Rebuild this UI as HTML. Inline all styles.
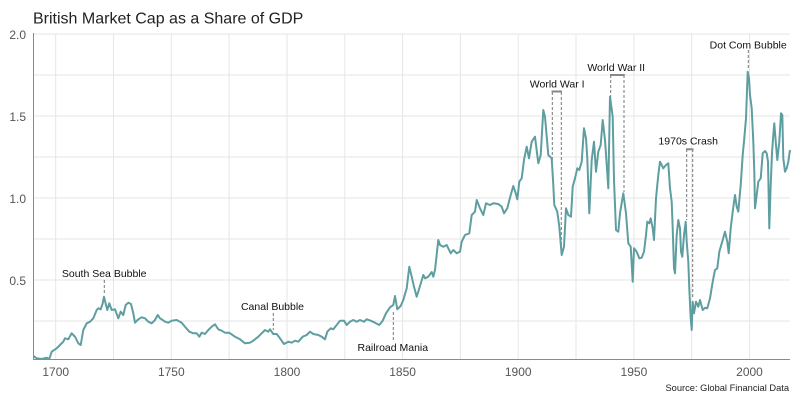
<!DOCTYPE html>
<html>
<head>
<meta charset="utf-8">
<style>
html,body{margin:0;padding:0;background:#fff;}
svg{display:block;}
text{font-family:"Liberation Sans",Arial,sans-serif;}
</style>
</head>
<body>
<svg width="800" height="400" viewBox="0 0 800 400" xmlns="http://www.w3.org/2000/svg">
<rect width="800" height="400" fill="#fff"/>
<!-- gridlines -->
<g stroke="#e6e6e6" stroke-width="1">
<line x1="33" y1="34" x2="790" y2="34"/>
<line x1="33" y1="75" x2="790" y2="75"/>
<line x1="33" y1="116" x2="790" y2="116"/>
<line x1="33" y1="157" x2="790" y2="157"/>
<line x1="33" y1="198" x2="790" y2="198"/>
<line x1="33" y1="239" x2="790" y2="239"/>
<line x1="33" y1="280" x2="790" y2="280"/>
<line x1="33" y1="321" x2="790" y2="321"/>
<line x1="55.7" y1="34" x2="55.7" y2="359"/>
<line x1="113.5" y1="34" x2="113.5" y2="359"/>
<line x1="171.3" y1="34" x2="171.3" y2="359"/>
<line x1="229.1" y1="34" x2="229.1" y2="359"/>
<line x1="287" y1="34" x2="287" y2="359"/>
<line x1="344.8" y1="34" x2="344.8" y2="359"/>
<line x1="402.6" y1="34" x2="402.6" y2="359"/>
<line x1="460.4" y1="34" x2="460.4" y2="359"/>
<line x1="518.2" y1="34" x2="518.2" y2="359"/>
<line x1="576" y1="34" x2="576" y2="359"/>
<line x1="633.9" y1="34" x2="633.9" y2="359"/>
<line x1="691.7" y1="34" x2="691.7" y2="359"/>
<line x1="749.5" y1="34" x2="749.5" y2="359"/>
</g>
<!-- axes -->
<line x1="33.5" y1="33" x2="33.5" y2="359.5" stroke="#8a8a8a" stroke-width="1"/>
<line x1="33" y1="359.5" x2="790" y2="359.5" stroke="#8a8a8a" stroke-width="1"/>

<!-- y labels -->
<g font-size="12" fill="#555" text-anchor="end">
<text x="26" y="39">2.0</text>
<text x="26" y="121">1.5</text>
<text x="26" y="203">1.0</text>
<text x="26" y="285">0.5</text>
</g>
<!-- x labels -->
<g font-size="12" fill="#555" text-anchor="middle">
<text x="55.7" y="376">1700</text>
<text x="171.3" y="376">1750</text>
<text x="287" y="376">1800</text>
<text x="402.6" y="376">1850</text>
<text x="518.2" y="376">1900</text>
<text x="633.9" y="376">1950</text>
<text x="749.5" y="376">2000</text>
</g>

<!-- title -->
<text x="33" y="23.5" font-size="16" fill="#222">British Market Cap as a Share of GDP</text>
<!-- source -->
<text x="789" y="391" font-size="9.3" fill="#222" text-anchor="end">Source: Global Financial Data</text>

<!-- annotation dashed lines -->
<g stroke="#777" stroke-width="1" stroke-dasharray="3,2" fill="none">
<line x1="104.3" y1="280" x2="104.3" y2="293"/>
<line x1="273.3" y1="313" x2="273.3" y2="330"/>
<line x1="393.3" y1="312" x2="393.3" y2="340"/>
<line x1="552.3" y1="92" x2="552.3" y2="160"/>
<line x1="561.3" y1="92" x2="561.3" y2="250"/>
<line x1="610.7" y1="75" x2="610.7" y2="98"/>
<line x1="624" y1="75" x2="624" y2="192"/>
<line x1="686.7" y1="149" x2="686.7" y2="220"/>
<line x1="692.7" y1="149" x2="692.7" y2="298"/>
<line x1="748.3" y1="50" x2="748.3" y2="68"/>
</g>
<!-- brackets -->
<g stroke="#888" stroke-width="2" fill="none">
<line x1="551.5" y1="91.5" x2="562" y2="91.5"/>
<line x1="610" y1="75" x2="624.8" y2="75"/>
<line x1="686" y1="149.3" x2="693.5" y2="149.3"/>
</g>

<!-- annotation labels -->
<g font-size="10.5" fill="#111" text-anchor="middle">
<text x="104.2" y="277">South Sea Bubble</text>
<text x="272.5" y="310">Canal Bubble</text>
<text x="392.8" y="351">Railroad Mania</text>
<text x="557.2" y="87.5">World War I</text>
<text x="616.2" y="71">World War II</text>
<text x="688.2" y="144.3">1970s Crash</text>
<text x="748.2" y="48.3">Dot Com Bubble</text>
</g>

<!-- series -->
<polyline fill="none" stroke="#5f9ea0" stroke-width="2" stroke-linejoin="round" points="
33.3,356 36.7,358.3 41.7,359 46.7,357.7 49.3,359 51.7,351.7 56.7,348.3 60,345 63.3,341.7 65,338.3 68.3,339.3 71.7,333.3 75,336.7 78.3,343.3 80.7,345 83.3,330 86.7,323.3 90,321.7 93.3,318.3 96.7,310 98.3,308.3 100.7,309.3 102.7,303.3 104,296.7 106,305 107.3,310 109.3,303.3 111.7,310 115,309.3 118.3,318.3 120.7,311.7 123.3,315 125.7,305 128.3,302.7 131,304 133.3,313.3 135,322.7 138.3,319.3 141.7,317.3 145,318.3 148.3,321.7 151.7,323.3 155,320 157.7,315 160,318.3 162.7,320 165,321.7 168.3,322.7 171.7,320.7 176.7,320 181.7,322.7 185,326.7 189.3,331.7 193.3,333.3 196.7,333.3 199.3,336.7 201.7,332.7 205,334 208.3,330 211.7,326.7 215,324.3 218.3,329.3 221.7,330.7 225,332.7 229.3,332.7
230,333.3 235,336.7 240,339.3 245,343.3 250,342.7 253.3,340.7 258.3,336.7 261.7,333.3 265,330 268.3,331.7 270,329.3 273.3,334 276.7,334 280,338.3 284,344 288.3,341.7 291.7,342.7 295,340.7 298.3,341.7 302.7,336.7 306.7,335 310,331.7 313.3,334 318.3,335 321.7,336.7 325,339.3 327.3,331.7 330.7,328.3 333.3,329.3 336.7,325 340,320.7 344,320.7 346.7,325 350,321.7 353.3,320 356.7,321.7 360,320 364,321.7 366.7,319.3 370.7,320.7 375,322.7 379.3,325 382.7,320.7 386,313.3 390,307.3 393.3,305 395,296 397.3,309.3 400.7,306 403.3,300 406.7,288.3 409.3,266.7 411.7,276.7 414,286.7 416.7,296.7 420,286 423.3,275 425,278.3 428.3,276.7 431.7,272 433.3,276.7 435,270 438.3,240
440,245 443.3,246.7 446.7,245 450.7,253.3 453.3,250 456.7,253.3 460,251.7 461.7,241.7 465,235 469.3,233.3 471.7,215 475,211.7 476.7,200 480,208.3 483.3,215 486,203.3 490,205 493.3,203.3 498.3,204 501.7,206.7 504,213.3 507.3,208.3 510.7,195 513.3,186 515.7,193.3 517.3,199.3 519.3,181.7 521.7,178.3
524,160 526.7,146.7 529,158.3 531.7,141.7 535,136.7 538.3,163.3 540.7,155 543.3,110 545,116.7 548.3,155 551.7,158.3 553.3,185 554.3,205 557.3,211.7 559.3,226.7 561.7,255 564,246.7 566,208.3 568.3,215 571,216.7 572.7,186.7 575,178.3 577.3,168.3 579.3,170 581.7,161.7 584,128.3 586,138.3 587.3,158.3 589.3,213.3 591.7,160 594,141.7 596,171.7 598.3,151.7 600.7,145 602.7,120 605,140 607.3,173.3 608.3,188.3 610,96.7 612.7,116.7 614,180 616,230 618.3,231.7 620,213.3 623.3,193.3 626,213.3 628.3,243.3
630.7,246.7 632.7,281.7 634,248.3 636.7,251.7 639.3,258.3 641.7,257.7 644,251.7 646,235 647.3,221.7 649.3,223.3 650.7,218.3 652.7,228.3 654,240 656,198.3 658.3,175 660,161.7 661.7,165 663.3,168.3 666,165 668.3,163.3 670,188.3
671.7,201.7 672.7,228.3 674,268.3 675,273.3 676.7,235 678.3,220 680,228.3 681,251.7 682.3,256.7 684,235 685.7,221.7 686.7,241.7 688.3,261.7 689.3,288.3 690.7,318.3 691.7,330 692.7,301.7 694,313.3 696,301.7 698.3,306.7 700,300 702.7,310 705,307.7 707.3,308.3 710,298.3 712.7,281.7 715,270 717.3,268.3 719.3,251.7 722.7,240 725,231.7 727.3,241.7 728.7,253.3 730.7,228.3 732.7,211.7 735,195 736.7,206.7 738.3,211.7 740.7,185 742.7,155 744,141.7 746,118.3 747.7,71.7 749,78.3 750,95 751.7,108.3 753.3,141.7 754.3,171.7 755,208.3 756.7,195 758.3,181.7 760.7,178.3 762.7,153.3 765,151 766.7,153.3 768,161.7 769.3,228.3 770.7,185 772,153.3 773.3,135 774.3,123.3 776,145 777.3,160 779.3,141.7 781,113.3 782.3,115 783.3,158.3 785,171.7 786.7,168.3 788.3,161.7 790,150"/>
</svg>
</body>
</html>
